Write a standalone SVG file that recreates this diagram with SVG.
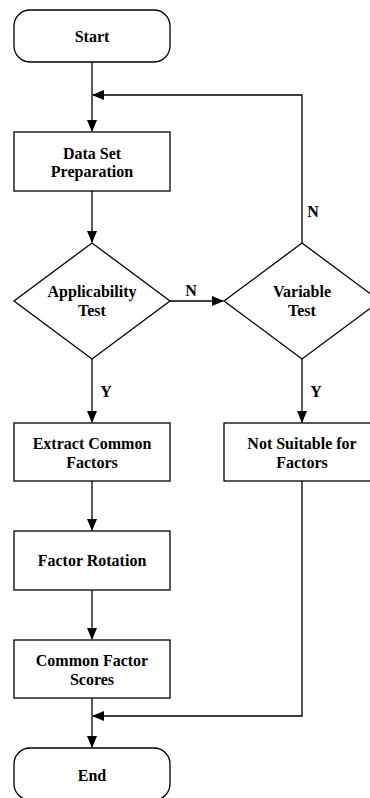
<svg xmlns="http://www.w3.org/2000/svg" width="370" height="798" viewBox="0 0 370 798">
<style>
.s{fill:#fff;stroke:#000;stroke-width:1.3}
.t{font-family:'Liberation Serif','Times New Roman','DejaVu Serif',serif;font-weight:bold;font-size:16px;text-anchor:middle;fill:#000}
.c{fill:none;stroke:#000;stroke-width:1.3}
</style>
<defs>
<marker id="a" markerWidth="12" markerHeight="10" refX="11" refY="5" orient="auto" markerUnits="userSpaceOnUse">
<path d="M0,0 L12,5 L0,10 Z" fill="#000"/>
</marker>
</defs>
<rect width="370" height="798" fill="#fff"/>
<g id="connectors">
<path class="c" d="M92,62 V131" marker-end="url(#a)"/>
<path class="c" d="M302,243 V95 H93" marker-end="url(#a)"/>
<path class="c" d="M92,191 V242" marker-end="url(#a)"/>
<path class="c" d="M170,301 H223" marker-end="url(#a)"/>
<path class="c" d="M92,359 V422" marker-end="url(#a)"/>
<path class="c" d="M302,359 V422" marker-end="url(#a)"/>
<path class="c" d="M92,481 V530" marker-end="url(#a)"/>
<path class="c" d="M92,590 V639" marker-end="url(#a)"/>
<path class="c" d="M92,698 V747" marker-end="url(#a)"/>
<path class="c" d="M302,481 V716 H93" marker-end="url(#a)"/>
<text class="t" x="191" y="296">N</text>
<text class="t" x="313" y="217">N</text>
<text class="t" x="106" y="397">Y</text>
<text class="t" x="316" y="397">Y</text>
</g>
<g id="start"><rect class="s" x="14" y="10" width="156" height="52" rx="16"/><text class="t" x="92" y="42">Start</text></g>
<g id="prep"><rect class="s" x="14" y="132" width="156" height="59"/><text class="t" x="92" y="159">Data Set</text><text class="t" x="92" y="177">Preparation</text></g>
<g id="applic"><polygon class="s" points="92,243 170,301 92,359 14,301"/><text class="t" x="92" y="297">Applicability</text><text class="t" x="92" y="316">Test</text></g>
<g id="variable"><polygon class="s" points="302,243 380,301 302,359 224,301"/><text class="t" x="302" y="297">Variable</text><text class="t" x="302" y="316">Test</text></g>
<g id="extract"><rect class="s" x="14" y="423" width="156" height="58"/><text class="t" x="92" y="449">Extract Common</text><text class="t" x="92" y="468">Factors</text></g>
<g id="notsuit"><rect class="s" x="224" y="423" width="156" height="58"/><text class="t" x="302" y="449">Not Suitable for</text><text class="t" x="302" y="468">Factors</text></g>
<g id="rotation"><rect class="s" x="14" y="531" width="156" height="59"/><text class="t" x="92" y="566">Factor Rotation</text></g>
<g id="scores"><rect class="s" x="14" y="640" width="156" height="58"/><text class="t" x="92" y="666">Common Factor</text><text class="t" x="92" y="685">Scores</text></g>
<g id="end"><rect class="s" x="14" y="748" width="156" height="52" rx="16"/><text class="t" x="92" y="781">End</text></g>
</svg>
